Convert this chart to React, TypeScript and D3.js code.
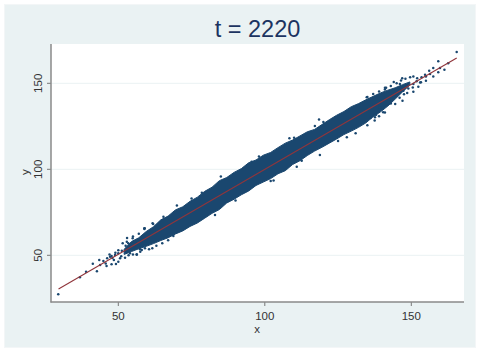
import React from "react";
import * as d3 from "d3";

const xTicks = [50, 100, 150];
const yTicks = [50, 100, 150];
const fitX = [29.6, 165.5];
const fitY = [30.4, 164.7];

const bandX = [52, 54.5, 57, 59.5, 62, 64.5, 67, 69.5, 72, 74.5, 77, 79.5, 82, 84.5, 87, 89.5, 92, 94.5, 97, 99.5, 102, 104.5, 107, 109.5, 112, 114.5, 117, 119.5, 122, 124.5, 127, 129.5, 132, 134.5, 137, 139.5, 142, 144.5, 147, 149.5];
const bandTop = [53.5, 58, 60.2, 63.8, 66.6, 70.6, 72.8, 76.4, 78.2, 81.4, 83.8, 87.2, 89.6, 93.4, 95.2, 98.2, 100.4, 103.8, 105.4, 108.2, 109.8, 112.6, 115.2, 117, 119.4, 121.8, 123.2, 126, 128.8, 131.4, 133.6, 136.4, 138.2, 140.4, 142.4, 144.4, 146, 147.4, 149.2, 150.8];
const bandBottom = [50.5, 52.2, 53.8, 55.2, 56.8, 58.6, 60.2, 62.4, 64.2, 66.8, 68.8, 71.6, 74.4, 76.6, 80.4, 82.6, 85.2, 87.4, 90.6, 92.6, 94.6, 97.4, 99.2, 102.8, 105, 108, 110.6, 112.8, 115.2, 117.6, 120.2, 122.2, 124.4, 127, 130.6, 133.4, 136.8, 140.8, 145, 149];

const scatterX = [29.5, 36.9, 39, 42.7, 41.3, 43.5, 44.9, 43.8, 46, 45.7, 47.7, 49.2, 46.2, 47.7, 48.9, 50, 51.2, 51.5, 50.6, 52.3, 54, 54.9, 52.9, 56.3, 57.4, 59.1, 58.9, 61.9, 47.2, 48.5, 50, 53.4, 55.7, 58,
  165.5, 159.2, 161.3, 162.6, 159.8, 157.5, 156.1, 159.2, 157.5, 155, 156.4, 153.5, 154.7, 146.9, 141.4, 149.6, 150.7, 151.8, 152.4, 150.7, 148.6, 150.7, 153.3, 148.4, 146.1, 145, 140.4, 138, 139.3, 133.6, 136.1, 145, 143.3, 147.3, 134.8,
  108.4, 110, 118.5, 117.1, 110.9, 118.8, 102, 95.5, 112.6, 61.7, 58.9, 65.4, 78.5, 68.8, 56.3, 61.6, 137.6, 141,
  144, 146.5, 148, 149, 147.5, 146, 143, 141, 139, 137.5, 135, 131, 128, 143, 141, 139, 137, 135, 152, 150.5, 153, 155, 144.5, 147,
  53, 55, 57, 59, 60.5, 63, 65, 67, 53.5, 55, 57.5, 51, 52.5, 50, 49, 47, 48, 70, 75, 85, 83, 90, 98, 103, 125, 120];
const scatterY = [27.3, 37.2, 40.5, 40.7, 45.1, 47.3, 46.7, 44.4, 43.8, 45.3, 44.8, 45, 48.3, 49.6, 50.2, 51.2, 52.7, 57, 48.3, 48.6, 51.2, 59.9, 57.9, 50.6, 53.5, 54.1, 65.7, 68.2, 49.2, 47.3, 46.3, 57, 57.9, 53.1,
  168.2, 162.8, 157.9, 161.6, 158.9, 158.9, 157.3, 156.4, 154, 151.5, 155.4, 153.5, 155, 152.9, 147.4, 153.5, 154, 151.2, 148, 149.6, 144.4, 145.1, 150.6, 148.6, 149.6, 150, 133.1, 131.7, 136, 127.9, 129.8, 142.8, 140.3, 145.7, 141.9,
  118, 118.4, 129, 125.2, 101.5, 108.3, 93.2, 104.4, 105, 68.6, 65.3, 72.4, 86.4, 61.2, 50.3, 54.1, 130.2, 147.4,
  150.8, 151.6, 152.6, 147, 143.6, 141.6, 138.2, 133, 130.8, 128.4, 125.6, 121, 118.6, 148.4, 146.4, 145.2, 143.8, 142, 153, 147.5, 150.5, 154, 138, 139.8,
  60, 61, 62.6, 65.7, 53.5, 55.5, 57, 58.8, 50, 50.5, 52, 49.5, 55.5, 53, 51.5, 50.5, 48.5, 79, 83, 95.8, 73.5, 81.8, 107.5, 93.5, 116.5, 127.5];

const NAVY = "#1a476f";
const TITLE = "#1c3461";
const PANEL = "#eaf2f3";

export default function App() {
  const x = d3.scaleLinear().domain([50, 150]).range([118.3, 411.3]);
  const y = d3.scaleLinear().domain([50, 150]).range([255.3, 83.3]);
  const band = d3.area<number>()
    .x((d) => x(d))
    .y0((_, i) => y(bandBottom[i]))
    .y1((_, i) => y(bandTop[i]));
  const fit = d3.line<number>().x((d) => x(d)).y((_, i) => y(fitY[i]));
  const font = "'Liberation Sans', Arial, sans-serif";
  return (
    <svg width={480} height={353} style={{ position: "absolute", left: 0, top: 0 }} fontFamily={font}>
      <rect width={480} height={353} fill="#ffffff" />
      <rect x={4.5} y={4.5} width={471} height={343} fill={PANEL} stroke="#f3f6f7" strokeWidth={1} />
      <rect x={51} y={44} width={413} height={258} fill="#ffffff" />
      {yTicks.map((t) => (
        <g key={t}>
          <line x1={51} x2={464} y1={y(t)} y2={y(t)} stroke={PANEL} strokeWidth={1} />
          <line x1={47} x2={51} y1={y(t)} y2={y(t)} stroke="#777" strokeWidth={1} />
          <text transform={`translate(41.5,${y(t)}) rotate(-90)`} textAnchor="middle" fontSize={11.5} fill="#333">{t}</text>
        </g>
      ))}
      {xTicks.map((t) => (
        <g key={t}>
          <line x1={x(t)} x2={x(t)} y1={302} y2={306} stroke="#777" strokeWidth={1} />
          <text x={x(t)} y={320} textAnchor="middle" fontSize={11.5} fill="#333">{t}</text>
        </g>
      ))}
      <path d={band(bandX) ?? ""} fill={NAVY} stroke={NAVY} strokeWidth={1} strokeLinejoin="round" />
      {scatterX.map((v, i) => (
        <circle key={i} cx={x(v)} cy={y(scatterY[i])} r={1.25} fill={NAVY} />
      ))}
      <path d={fit(fitX) ?? ""} fill="none" stroke="#90353b" strokeWidth={1.1} />
      <line x1={51} x2={51} y1={44} y2={302.5} stroke="#8a8a8a" strokeWidth={1.5} />
      <line x1={50.5} x2={464} y1={302} y2={302} stroke="#8a8a8a" strokeWidth={1.5} />
      <text x={257.5} y={37} textAnchor="middle" fontSize={23.5} fill={TITLE}>t = 2220</text>
      <text x={257} y={333} textAnchor="middle" fontSize={11.5} fill="#333">x</text>
      <text transform="translate(29,172) rotate(-90)" textAnchor="middle" fontSize={11.5} fill="#333">y</text>
    </svg>
  );
}
